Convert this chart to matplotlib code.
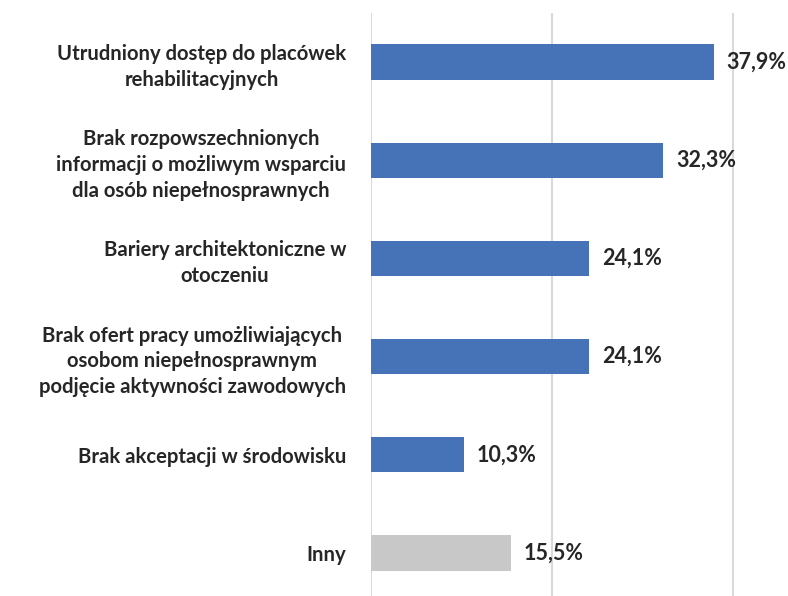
import matplotlib.pyplot as plt
import numpy as np

# Dane
labels = [
    "Utrudniony dostęp do placówek\nrehabilitacyjnych",
    "Brak rozpowszechnionych\ninformacji o możliwym wsparciu\ndla osób niepełnosprawnych",
    "Bariery architektoniczne w\notoczeniu",
    "Brak ofert pracy umożliwiających\nosobom niepełnosprawnym\npodjęcie aktywności zawodowych",
    "Brak akceptacji w środowisku",
    "Inny",
]
values = [37.9, 32.3, 24.1, 24.1, 10.3, 15.5]
colors = ['#4672B8'] * 5 + ['#C8C8C8']

plt.rcParams['font.family'] = ['Lato', 'DejaVu Sans']

fig = plt.figure(figsize=(7.88, 5.96), dpi=100)
ax = fig.add_axes([371 / 788, -6 / 596, 417 / 788, 589 / 596])

y = np.arange(len(values))
ax.barh(y, values, height=0.36, color=colors, zorder=3)
ax.set_ylim(len(values) - 0.5, -0.5)
ax.set_xlim(0, 46.07)

for i, v in enumerate(values):
    ax.text(v + 1.4, i, ('%.1f%%' % v).replace('.', ','), va='center', ha='left',
            fontsize=15.5, fontweight='bold', color='#262626')

ax.set_yticks(y)
ax.set_yticklabels(labels, fontsize=14.6, fontweight='bold', color='#262626',
                   ha='right', multialignment='center', linespacing=1.35)
ax.tick_params(axis='y', length=0, pad=18)
ax.set_xticks([0, 20, 40])
ax.tick_params(axis='x', length=0, labelbottom=False)
ax.grid(axis='x', color='#D9D9D9', linewidth=1.5, zorder=0)
for s in ax.spines.values():
    s.set_visible(False)

fig.savefig('out.png', dpi=100)
